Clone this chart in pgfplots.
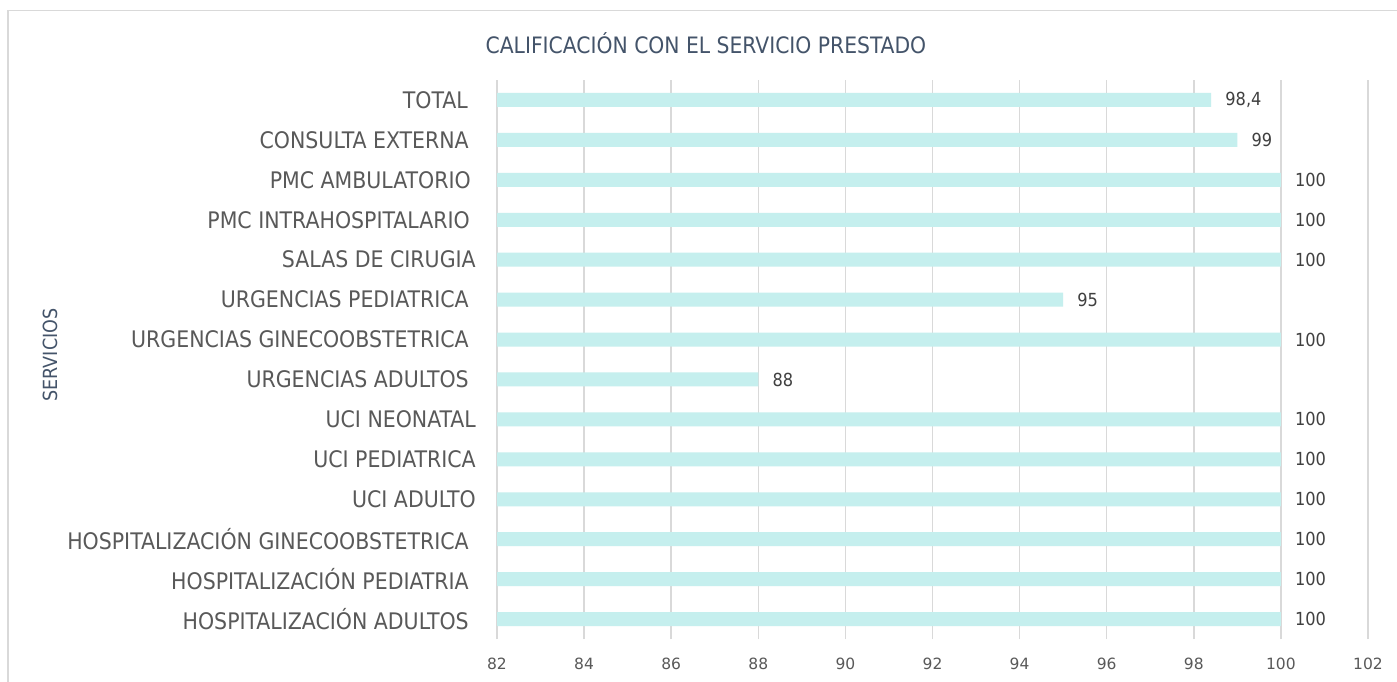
\documentclass[border=0pt]{standalone}
\usepackage{pgfplots}
\pgfplotsset{compat=1.18}
\usepackage{fontspec}
\setmainfont{DejaVu Sans}
\newfontfamily\condfont{DejaVu Sans Condensed}
\definecolor{barc}{RGB}{197,239,238}
\definecolor{gridc}{RGB}{217,217,217}
\definecolor{labc}{RGB}{89,89,89}
\definecolor{titc}{RGB}{68,84,106}
\definecolor{datc}{RGB}{64,64,64}
\begin{document}
\begin{tikzpicture}[x=1pt,y=1pt]
\useasboundingbox (0,0) rectangle (1397,681);
\fill[white] (0,0) rectangle (1397,681);
\draw[gridc, line width=1.5pt] (8,-20) -- (8,670.5) -- (1420,670.5);
\begin{axis}[
  at={(497pt,42pt)}, anchor=south west,
  width=871pt, height=559pt, scale only axis,
  xbar, bar width=14pt,
  xmin=82, xmax=102, ymin=-0.5, ymax=13.5,
  xtick={82,84,...,102},
  ytick={0,...,13},
  yticklabels={
    {HOSPITALIZACIÓN ADULTOS\kern7pt},
    {HOSPITALIZACIÓN PEDIATRIA\kern7pt},
    {HOSPITALIZACIÓN GINECOOBSTETRICA\kern7pt},
    {UCI ADULTO},
    {UCI PEDIATRICA},
    {UCI NEONATAL},
    {URGENCIAS ADULTOS\kern7pt},
    {URGENCIAS GINECOOBSTETRICA\kern7pt},
    {URGENCIAS PEDIATRICA\kern7pt},
    {SALAS DE CIRUGIA},
    {PMC INTRAHOSPITALARIO\kern6pt},
    {PMC AMBULATORIO\kern5pt},
    {CONSULTA EXTERNA\kern7pt},
    {TOTAL\kern8pt}},
  axis line style={draw=none},
  major tick length=0pt,
  xmajorgrids,
  grid style={gridc, line width=1.5pt},
  /pgf/number format/assume math mode=true,
  /pgf/number format/1000 sep={},
  xticklabel style={labc, font=\fontsize{15.5}{18}\selectfont, inner sep=0pt, anchor=north, yshift=-19pt},
  yticklabel style={labc, font=\condfont\fontsize{22.8}{26}\selectfont, inner sep=0pt, anchor=east, xshift=-21pt},
  nodes near coords={\pgfmathprintnumber[use comma]{\pgfplotspointmeta}},
  nodes near coords style={datc, font=\condfont\fontsize{18}{20}\selectfont, anchor=west, inner sep=0pt, xshift=14pt},
  title={CALIFICACIÓN CON EL SERVICIO PRESTADO},
  every axis title/.style={at={(rel axis cs:0.5,1)}, anchor=center, xshift=-226.5pt, yshift=37pt, titc, font=\condfont\fontsize{22.6}{26}\selectfont},
  ylabel={SERVICIOS},
  every axis y label/.style={at={(rel axis cs:0,0.5)}, xshift=-447pt, yshift=4.5pt, anchor=center, rotate=90, titc, font=\condfont\fontsize{19.5}{22}\selectfont},
]
\addplot[fill=barc, draw=none] coordinates {
  (100,0) (100,1) (100,2) (100,3) (100,4) (100,5) (88,6)
  (100,7) (95,8) (100,9) (100,10) (100,11) (99,12) (98.4,13)
};
\end{axis}
\end{tikzpicture}
\end{document}
